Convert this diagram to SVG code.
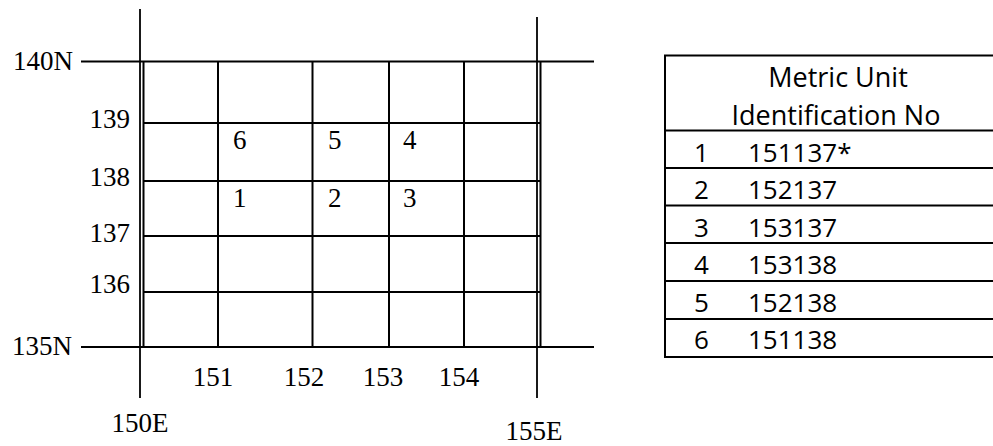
<svg xmlns="http://www.w3.org/2000/svg" width="993" height="446" viewBox="0 0 993 446">
<style>
.ln{stroke:#000;stroke-width:2;fill:none}
.ax{stroke:#000;stroke-width:1.8;fill:none}
.tm{font-family:"Liberation Serif","Times New Roman",serif;font-size:27px;fill:#000}
.cb{font-family:"Open Sans","Noto Sans","Liberation Sans",sans-serif;font-size:26px;fill:#000}
.hd{font-size:27px}
</style>
<rect width="993" height="446" fill="#fff"/>
<g id="axes">
<line class="ax" x1="140" y1="9" x2="140" y2="398"/>
<line class="ax" x1="537" y1="17" x2="537" y2="398"/>
<line class="ax" x1="81" y1="61.5" x2="594" y2="61.5"/>
<line class="ax" x1="81" y1="347" x2="594" y2="347"/>
</g>
<g id="grid">
<line class="ln" x1="143.5" y1="61" x2="143.5" y2="347"/>
<line class="ln" x1="540.5" y1="61" x2="540.5" y2="347"/>
<line class="ln" x1="218" y1="61" x2="218" y2="347"/>
<line class="ln" x1="312.5" y1="61" x2="312.5" y2="347"/>
<line class="ln" x1="389" y1="61" x2="389" y2="347"/>
<line class="ln" x1="464" y1="61" x2="464" y2="347"/>
<line class="ln" x1="143" y1="123" x2="541" y2="123"/>
<line class="ln" x1="143" y1="181" x2="541" y2="181"/>
<line class="ln" x1="143" y1="236" x2="541" y2="236"/>
<line class="ln" x1="143" y1="292" x2="541" y2="292"/>
</g>
<g id="axis-labels">
<text class="tm" x="73" y="70" text-anchor="end">140N</text>
<text class="tm" x="130" y="128" text-anchor="end">139</text>
<text class="tm" x="130" y="186" text-anchor="end">138</text>
<text class="tm" x="130" y="242" text-anchor="end">137</text>
<text class="tm" x="130" y="293" text-anchor="end">136</text>
<text class="tm" x="72" y="355" text-anchor="end">135N</text>
<text class="tm" x="213" y="386" text-anchor="middle">151</text>
<text class="tm" x="304" y="386" text-anchor="middle">152</text>
<text class="tm" x="383" y="386" text-anchor="middle">153</text>
<text class="tm" x="459" y="386" text-anchor="middle">154</text>
<text class="tm" x="140" y="432" text-anchor="middle">150E</text>
<text class="tm" x="534" y="440" text-anchor="middle">155E</text>
</g>
<g id="cell-labels">
<text class="tm" x="233" y="149">6</text>
<text class="tm" x="328" y="149">5</text>
<text class="tm" x="403" y="149">4</text>
<text class="tm" x="233" y="207">1</text>
<text class="tm" x="328" y="207">2</text>
<text class="tm" x="403" y="207">3</text>
</g>
<g id="table">
<line class="ln" x1="665" y1="55" x2="665" y2="357"/>
<line class="ln" x1="664" y1="55.5" x2="993" y2="55.5"/>
<line class="ln" x1="664" y1="130.5" x2="993" y2="130.5"/>
<line class="ln" x1="664" y1="168" x2="993" y2="168"/>
<line class="ln" x1="664" y1="205.5" x2="993" y2="205.5"/>
<line class="ln" x1="664" y1="243" x2="993" y2="243"/>
<line class="ln" x1="664" y1="281" x2="993" y2="281"/>
<line class="ln" x1="664" y1="319" x2="993" y2="319"/>
<line class="ln" x1="664" y1="357" x2="993" y2="357"/>
<text class="cb hd" x="838" y="87" text-anchor="middle">Metric Unit</text>
<text class="cb hd" x="836" y="125" text-anchor="middle">Identification No</text>
<text class="cb" x="694" y="162">1</text><text class="cb" x="748" y="162">151137*</text>
<text class="cb" x="694" y="199">2</text><text class="cb" x="748" y="199">152137</text>
<text class="cb" x="694" y="237">3</text><text class="cb" x="748" y="237">153137</text>
<text class="cb" x="694" y="274">4</text><text class="cb" x="748" y="274">153138</text>
<text class="cb" x="694" y="312">5</text><text class="cb" x="748" y="312">152138</text>
<text class="cb" x="694" y="349">6</text><text class="cb" x="748" y="349">151138</text>
</g>
</svg>
